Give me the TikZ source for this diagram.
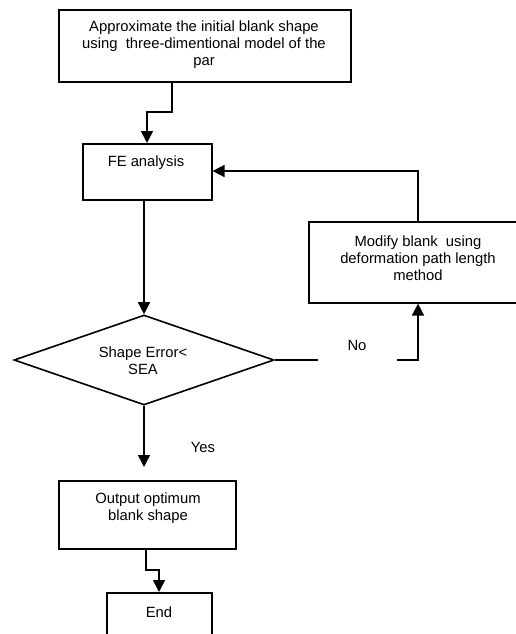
\documentclass[tikz,border=0pt]{standalone}
\usepackage{fontspec}
\setmainfont{Liberation Sans}
\usetikzlibrary{shapes.geometric,arrows.meta}
\begin{document}
\begin{tikzpicture}[x=1pt,y=-1pt,
  box/.style={draw,line width=1.6pt,rectangle,inner sep=0pt,anchor=north west},
  txt/.style={inner sep=0pt,align=center,font=\fontsize{14.8}{17}\selectfont},
  conn/.style={line width=1.6pt},
  arr/.style={conn,-{Triangle[length=12pt,width=12pt]}}]
\useasboundingbox (0,0) rectangle (516,634);
\clip (0,0) rectangle (516,634);
% boxes
\node[box,minimum width=292pt,minimum height=72pt] (b1) at (58,9) {};
\node[txt] (t1) at (204,45) {Approximate the initial blank shape\\using~ three-dimentional model of the\\par};
\node[box,minimum width=129pt,minimum height=56pt] (fe) at (82,143) {};
\node[txt] (tfe) at (146,163) {FE analysis};
\node[box,minimum width=230pt,minimum height=81pt] (mod) at (308,221) {};
\node[txt] (tmod) at (418,258) {Modify blank~ using\\deformation path length\\method};
\node[diamond,draw,line width=1.6pt,inner sep=0pt,minimum width=260pt,minimum height=90pt] (dec) at (144,360) {};
\node[txt] (tdec) at (143,361) {Shape Error{<}\\SEA};
\node[box,minimum width=177pt,minimum height=68pt] (out) at (58,480) {};
\node[txt] (tout) at (148,508) {Output optimum\\blank shape};
\node[box,minimum width=105pt,minimum height=60pt] (end) at (106,592) {};
\node[txt] (tend) at (159,612) {End};
\node[txt] (no) at (357,345) {No};
\node[txt] (yes) at (203,447) {Yes};
% helper coordinates
\coordinate (c1a) at (172,112);
\coordinate (c1b) at (147,112);
\coordinate (nogapL) at (318,360);
\coordinate (nogapR) at (397,360);
\coordinate (nocorner) at (418,360);
\coordinate (fbcorner) at (418,171);
\coordinate (yestip) at (144,467);
\coordinate (c6a) at (146,570);
\coordinate (c6b) at (159,570);
% connectors
\draw[arr] (b1.south -| c1a) -- (c1a) -- (c1b) -- (fe.north -| c1b);
\draw[arr] (fe.south -| dec.north) -- (dec.north);
\draw[conn] (dec.east) -- (nogapL);
\draw[arr] (nogapR) -- (nocorner) -- (mod.south -| nocorner);
\draw[arr] (mod.north -| fbcorner) -- (fbcorner) -- (fe.east |- fbcorner);
\draw[arr] (dec.south) -- (yestip);
\draw[arr] (out.south -| c6a) -- (c6a) -- (c6b) -- (end.north -| c6b);
\end{tikzpicture}
\end{document}
